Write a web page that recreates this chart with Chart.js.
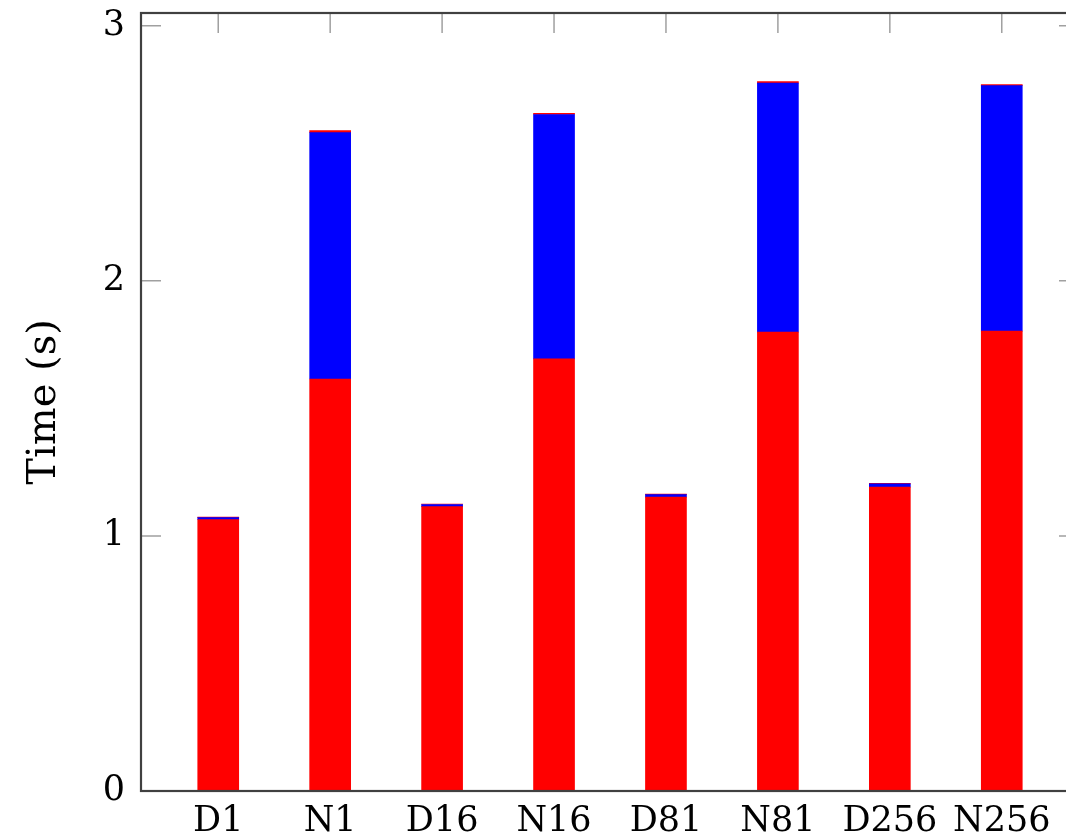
<!DOCTYPE html>
<html>
<head>
<meta charset="utf-8">
<script src="https://cdn.jsdelivr.net/npm/chart.js@4"></script>
<style>
  html, body { margin: 0; padding: 0; background: #fff; overflow: hidden; }
  #wrap { width: 1066px; height: 840px; overflow: hidden; }
  #box { width: 1090px; height: 864px; margin-top: -24px; }
</style>
</head>
<body>
<div id="wrap"><div id="box"><canvas id="chart"></canvas></div></div>
<script>
var categories = ['D1', 'N1', 'D16', 'N16', 'D81', 'N81', 'D256', 'N256'];
var redBase = [1.064, 1.615, 1.115, 1.694, 1.152, 1.799, 1.191, 1.803];
var blueMid = [0.008, 0.966, 0.008, 0.958, 0.010, 0.976, 0.013, 0.962];
var redTop  = [0.002, 0.008, 0.002, 0.005, 0.002, 0.006, 0.002, 0.004];
var yTicks = [0, 1, 2, 3];

function toPoints(arr) {
    return arr.map(function (v, i) { return { x: i, y: v }; });
}

// inward ticks like pgfplots, and the frame on top of the bars
var frame = {
    id: 'frame',
    beforeDatasetsDraw: function (chart) {
        var ctx = chart.ctx, a = chart.chartArea;
        var xs = chart.scales.x, ys = chart.scales.y;
        ctx.save();
        ctx.strokeStyle = '#a0a0a0';
        ctx.lineWidth = 1.5;
        ctx.beginPath();
        yTicks.forEach(function (t) {
            var y = ys.getPixelForValue(t);
            ctx.moveTo(a.left, y); ctx.lineTo(a.left + 20, y);
            ctx.moveTo(a.right, y); ctx.lineTo(a.right - 20, y);
        });
        categories.forEach(function (c, i) {
            var x = xs.getPixelForValue(i);
            ctx.moveTo(x, a.top); ctx.lineTo(x, a.top + 20);
            ctx.moveTo(x, a.bottom); ctx.lineTo(x, a.bottom - 20);
        });
        ctx.stroke();
        ctx.restore();
    },
    afterDatasetsDraw: function (chart) {
        var ctx = chart.ctx, a = chart.chartArea;
        ctx.save();
        ctx.strokeStyle = '#404040';
        ctx.lineWidth = 2.2;
        ctx.strokeRect(a.left, a.top, a.right - a.left, a.bottom - a.top);
        ctx.restore();
    }
};

var font = { family: '"DejaVu Serif", "Liberation Serif", serif', size: 35 };

new Chart(document.getElementById('chart'), {
    type: 'bar',
    data: {
        datasets: [
            { label: 'base', data: toPoints(redBase), backgroundColor: '#ff0000' },
            { label: 'mid', data: toPoints(blueMid), backgroundColor: '#0000ff' },
            { label: 'top', data: toPoints(redTop), backgroundColor: '#ff0000' }
        ]
    },
    options: {
        responsive: true,
        maintainAspectRatio: false,
        animation: false,
        barThickness: 41,
        layout: { padding: { top: 0, right: 11, left: 0, bottom: 0 } },
        plugins: { legend: { display: false }, tooltip: { enabled: false } },
        scales: {
            x: {
                type: 'linear',
                stacked: true,
                offset: false,
                min: -0.69,
                max: 7.69,
                grid: { display: false, drawTicks: false },
                border: { display: false },
                afterBuildTicks: function (s) {
                    s.ticks = categories.map(function (c, i) { return { value: i }; });
                },
                afterFit: function (s) { s.height = 49; },
                ticks: {
                    color: '#000',
                    font: font,
                    padding: 10,
                    maxRotation: 0,
                    autoSkip: false,
                    callback: function (v) { return categories[v]; }
                }
            },
            y: {
                stacked: true,
                min: 0,
                max: 3.05,
                grid: { display: false, drawTicks: false },
                border: { display: false },
                afterBuildTicks: function (s) {
                    s.ticks = yTicks.map(function (t) { return { value: t }; });
                },
                afterFit: function (s) { s.width = 141; },
                title: {
                    display: true,
                    text: 'Time (s)',
                    color: '#000',
                    font: { family: font.family, size: 40 },
                    padding: { top: 21 }
                },
                ticks: {
                    color: '#000',
                    font: font,
                    padding: 16
                }
            }
        }
    },
    plugins: [frame]
});
</script>
</body>
</html>
